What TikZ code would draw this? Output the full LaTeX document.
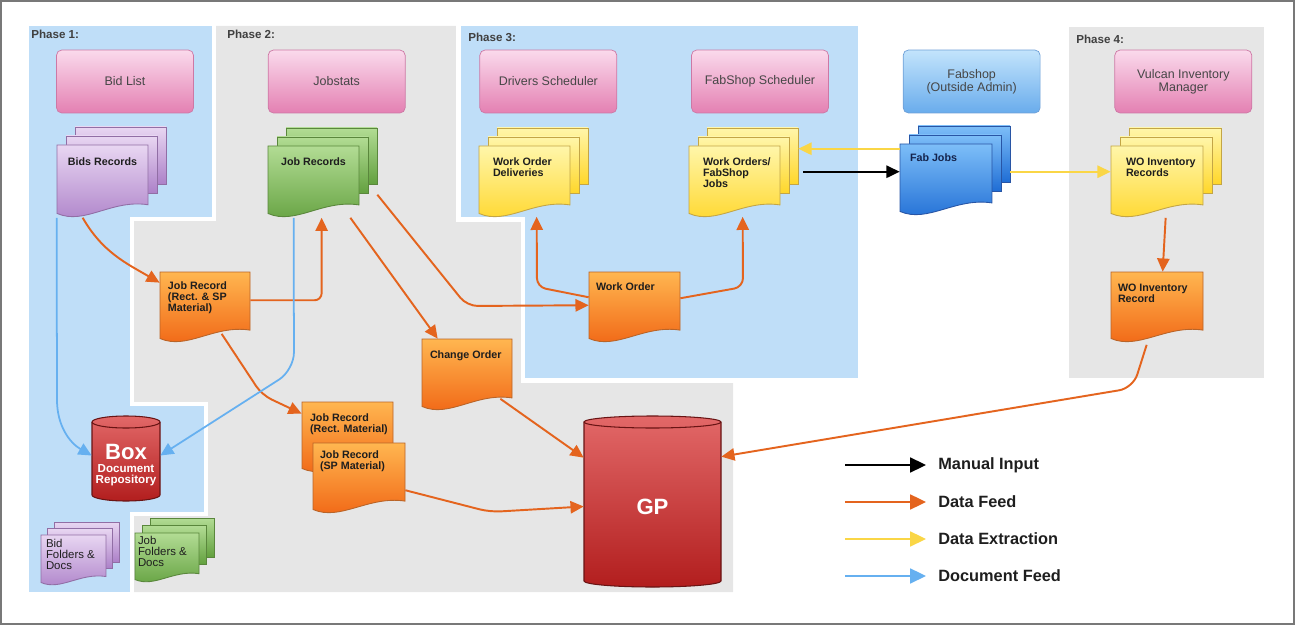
\documentclass[tikz,border=0pt]{standalone}
\usepackage{fontspec}
\setmainfont{Liberation Sans}
\usetikzlibrary{positioning,calc,arrows.meta}

\definecolor{phaseblue}{RGB}{191,222,248}
\definecolor{phasegray}{RGB}{230,230,230}
\definecolor{framegray}{RGB}{120,120,120}
\definecolor{pinktop}{RGB}{250,218,236}
\definecolor{pinkbot}{RGB}{228,128,178}
\definecolor{pinkedge}{RGB}{205,120,165}
\definecolor{skytop}{RGB}{195,228,252}
\definecolor{skybot}{RGB}{105,172,236}
\definecolor{skyedge}{RGB}{110,160,215}
\definecolor{purptop}{RGB}{232,214,242}
\definecolor{purpbot}{RGB}{172,128,200}
\definecolor{purpedge}{RGB}{145,110,165}
\definecolor{greentop}{RGB}{178,220,148}
\definecolor{greenbot}{RGB}{98,160,62}
\definecolor{greenedge}{RGB}{90,135,60}
\definecolor{yeltop}{RGB}{255,246,170}
\definecolor{yelbot}{RGB}{255,214,40}
\definecolor{yeledge}{RGB}{195,165,70}
\definecolor{fabtop}{RGB}{125,190,248}
\definecolor{fabbot}{RGB}{30,108,212}
\definecolor{fabedge}{RGB}{40,85,165}
\definecolor{orgtop}{RGB}{255,182,80}
\definecolor{orgbot}{RGB}{240,98,18}
\definecolor{orgedge}{RGB}{185,100,40}
\definecolor{dbtop}{RGB}{226,104,104}
\definecolor{dbbot}{RGB}{178,30,30}
\definecolor{dbedge}{RGB}{105,20,20}
\definecolor{feedc}{RGB}{228,100,30}
\definecolor{extractc}{RGB}{250,214,70}
\definecolor{docfeedc}{RGB}{102,176,240}
\definecolor{textdark}{RGB}{30,30,30}
\definecolor{apptext}{RGB}{70,70,70}
\definecolor{navytext}{RGB}{20,35,75}

% one page: style, name, x, y (down), width, height
\newcommand{\docpage}[6]{%
  \path[#1] (#3,-#4) -- (#3+#5,-#4) -- (#3+#5,-#4-0.83*#6)
    .. controls (#3+0.6*#5,-#4-0.75*#6) and (#3+0.3*#5,-#4-1.12*#6) .. (#3,-#4-0.95*#6) -- cycle;
  \node[docbody, minimum width=#5*0.02cm, minimum height=0.95*#6*0.02cm] (#2) at (#3+0.5*#5,-#4-0.475*#6) {};
}
% stack of pages: style, name, x, y, width, height, offset
\newcommand{\docstack}[7]{%
  \path[#1] (#3+2*#7,-#4+2*#7) rectangle ++(#5,-0.8*#6);
  \path[#1] (#3+#7,-#4+#7) rectangle ++(#5,-0.8*#6);
  \docpage{#1}{#2}{#3}{#4}{#5}{#6}
}
% database: name, x, y, width, height, cap radius
\newcommand{\dbcyl}[6]{%
  \path[dbfill] (#2,-#3-#6) -- (#2,-#3-#5+#6) arc[start angle=180, end angle=360, x radius=#4/2, y radius=#6]
    -- (#2+#4,-#3-#6) arc[start angle=0, end angle=180, x radius=#4/2, y radius=#6] -- cycle;
  \draw[dbrim] (#2,-#3-#6) arc[start angle=180, end angle=360, x radius=#4/2, y radius=#6];
  \node[docbody, minimum width=#4*0.02cm, minimum height=#5*0.02cm] (#1) at (#2+#4/2,-#3-#5/2) {};
}

\begin{document}
\begin{tikzpicture}[x=0.02cm, y=0.02cm,
  phasearea/.style={fill=phaseblue, draw=white, line width=2.3pt},
  phaselabel/.style={anchor=north west, inner sep=0, font=\fontsize{6.6}{8}\selectfont\bfseries, text=textdark!85},
  appbox/.style={rectangle, rounded corners=3pt, draw=pinkedge, top color=pinktop, bottom color=pinkbot, minimum width=2.74cm, minimum height=1.26cm, font=\fontsize{7.1}{7.6}\selectfont, text=apptext, align=center},
  skybox/.style={draw=skyedge, top color=skytop, bottom color=skybot},
  docbody/.style={rectangle, inner sep=0},
  purpledoc/.style={draw=purpedge, top color=purptop, bottom color=purpbot, line width=0.5pt},
  greendoc/.style={draw=greenedge, top color=greentop, bottom color=greenbot, line width=0.5pt},
  yellowdoc/.style={draw=yeledge, top color=yeltop, bottom color=yelbot, line width=0.5pt},
  fabdoc/.style={draw=fabedge, top color=fabtop, bottom color=fabbot, line width=0.5pt},
  orangedoc/.style={draw=orgedge, top color=orgtop, bottom color=orgbot, line width=0.5pt},
  dbfill/.style={draw=dbedge, top color=dbtop, bottom color=dbbot, line width=0.6pt},
  dbrim/.style={draw=dbedge, line width=0.6pt},
  doctext/.style={anchor=north west, inner sep=0, align=left, font=\fontsize{6.1}{6.3}\selectfont\bfseries, text=textdark},
  foldertext/.style={doctext, font=\fontsize{6.5}{6.3}\selectfont},
  dbtext/.style={inner sep=0, text=white, font=\fontsize{12.6}{14}\selectfont\bfseries},
  dbsmall/.style={inner sep=0, text=white, align=center, font=\fontsize{6.6}{6.3}\selectfont\bfseries},
  legtext/.style={anchor=west, inner sep=0, font=\fontsize{9.3}{11}\selectfont\bfseries, text=textdark},
  feedarrow/.style={draw=feedc, line width=1.1pt, -{Triangle[length=7.5pt,width=7pt]}},
  extractarrow/.style={draw=extractc, line width=1pt, -{Triangle[length=7.5pt,width=7pt]}},
  docarrow/.style={draw=docfeedc, line width=1pt, -{Triangle[length=7.5pt,width=7pt]}},
  manualarrow/.style={draw=black, line width=1pt, -{Triangle[length=7.5pt,width=7pt]}},
  legtip/.style={-{Triangle[length=9pt,width=8.5pt]}}
]
\useasboundingbox (0,0) rectangle (1295,-625);
\draw[framegray, line width=0.6pt] (1,-1) rectangle (1294,-624);

% Phase areas
\fill[phasegray] (29,-26) -- (458.5,-26) -- (458.5,-219.5) -- (523,-219.5) -- (523,-380.5) -- (733,-380.5) -- (733,-592) -- (29,-592) -- cycle;
\fill[phasegray] (1069,-27) rectangle (1264,-378);
\path[phasearea] (27,-24) -- (214,-24) -- (214,-219) -- (132,-219) -- (132,-404) -- (206,-404) -- (206,-514) -- (132,-514) -- (132,-594) -- (27,-594) -- cycle;
\path[phasearea] (458.5,-24) -- (860,-24) -- (860,-380.5) -- (523,-380.5) -- (523,-219.5) -- (458.5,-219.5) -- cycle;

\node[phaselabel] (ph1) at (31,-30) {Phase 1:};
\node[phaselabel] (ph2) at (227,-30) {Phase 2:};
\node[phaselabel] (ph3) at (468,-33) {Phase 3:};
\node[phaselabel] (ph4) at (1076,-35) {Phase 4:};

% Applications
\node[appbox] (bidlist) at (125,-81.5) {Bid List};
\node[appbox, right=1.48cm of bidlist] (jobstats) {Jobstats};
\node[appbox, right=1.48cm of jobstats] (drvsched) {Drivers Scheduler};
\node[appbox, right=1.48cm of drvsched] (fabsched) {FabShop Scheduler};
\node[appbox, skybox, right=1.48cm of fabsched] (fabshop) {Fabshop\\(Outside Admin)};
\node[appbox, right=1.48cm of fabshop] (vulcan) {Vulcan Inventory\\Manager};

% Record stacks
\docstack{purpledoc}{bidrec}{57}{145}{91}{72}{9}
\docstack{greendoc}{jobrec}{268}{146}{91}{71}{9}
\docstack{yellowdoc}{wodel}{479}{146}{91}{71}{9}
\docstack{yellowdoc}{wofab}{689}{146}{91}{71}{9}
\docstack{fabdoc}{fabjobs}{900}{144}{92}{71}{9}
\docstack{yellowdoc}{woinvs}{1111}{146}{92}{71}{9}

\node[doctext, below=0.26cm of bidrec.north, anchor=north] (bidrec-t) {Bids Records};
\node[doctext, below=0.24cm of jobrec.north, anchor=north] (jobrec-t) {Job Records};
\node[doctext, below right=0.24cm and 0.28cm of wodel.north west] (wodel-t) {Work Order\\Deliveries};
\node[doctext, below right=0.24cm and 0.28cm of wofab.north west] (wofab-t) {Work Orders/\\FabShop\\Jobs};
\node[doctext, text=navytext, below right=0.2cm and 0.2cm of fabjobs.north west] (fabjobs-t) {Fab Jobs};
\node[doctext, below right=0.24cm and 0.3cm of woinvs.north west] (woinvs-t) {WO Inventory\\Records};

% Single records
\docpage{orangedoc}{jrsp}{160}{272}{90}{70}
\docpage{orangedoc}{chgord}{422}{339}{90}{71}
\docpage{orangedoc}{workord}{589}{272}{91}{70}
\docpage{orangedoc}{jrrect}{302}{402}{91}{70}
\node[doctext, below right=0.24cm and 0.16cm of jrrect.north west] (jrrect-t) {Job Record\\(Rect. Material)};
\docpage{orangedoc}{jrspm}{313}{443}{92}{70}
\docpage{orangedoc}{woinv}{1111}{272}{92}{70}

\node[doctext, below right=0.2cm and 0.16cm of jrsp.north west] (jrsp-t) {Job Record\\(Rect. \& SP\\Material)};
\node[doctext, below right=0.24cm and 0.16cm of chgord.north west] (chgord-t) {Change Order};
\node[doctext, below right=0.22cm and 0.14cm of workord.north west] (workord-t) {Work Order};
\node[doctext, below right=0.16cm and 0.14cm of jrspm.north west] (jrspm-t) {Job Record\\(SP Material)};
\node[doctext, below right=0.24cm and 0.14cm of woinv.north west] (woinv-t) {WO Inventory\\Record};

% Folders
\docstack{purpledoc}{bidfold}{41}{535}{65}{50}{6.5}
\docstack{greendoc}{jobfold}{135}{533}{64}{49}{7.5}
\node[foldertext, below right=0.08cm and 0.1cm of bidfold.north west] (bidfold-t) {Bid\\Folders \&\\Docs};
\node[foldertext, below right=0.06cm and 0.06cm of jobfold.north west] (jobfold-t) {Job\\Folders \&\\Docs};

% Databases
\dbcyl{box}{92}{416}{68}{85}{6}
\dbcyl{gp}{584}{416}{137}{171}{6}
\node[dbtext] (box-t) at ($(box.center)+(0,7)$) {Box};
\node[dbsmall] (box-s) at ($(box.center)+(0,-17)$) {Document\\Repository};
\node[dbtext] (gp-t) at ($(gp.center)+(0,-5)$) {GP};

% Data feed
\draw[feedarrow] ($(bidrec.south west)+(26,-4)$) to[out=-60,in=150] ($(jrsp.north west)+(0,-11)$);
\draw[feedarrow, rounded corners=4pt] ($(jrsp.east)+(0,5)$) -| ($(jobrec.south west)+(54,-4)$);
\draw[feedarrow, rounded corners=6pt] ($(jrsp.south west)+(62,5)$) -- (262,-395) -- ($(jrrect.north west)+(0,-12)$);
\draw[feedarrow] ($(jobrec.south east)+(-9,-4)$) -- ($(chgord.north west)+(16,0)$);
\draw[feedarrow, rounded corners=6pt] ($(jobrec.east)+(18,-15)$) -- (467,-306) -- (workord.west);
\draw[feedarrow, rounded corners=5pt] ($(workord.west)+(0,8)$) -- (537,-287) -- ($(wodel.south west)+(58,-3)$);
\draw[feedarrow, rounded corners=5pt] ($(workord.east)+(0,7)$) -- (743,-287) -- ($(wofab.south west)+(54,-3)$);
\draw[feedarrow] ($(chgord.south east)+(-12,8)$) -- ($(gp.north west)+(0,-42)$);
\draw[feedarrow, rounded corners=6pt] ($(jrspm.east)+(0,-14)$) -- (490,-512) -- ($(gp.west)+(0,-5)$);
\draw[feedarrow] ($(woinvs.south west)+(55,-4)$) -- ($(woinv.north west)+(52,0)$);
\draw[feedarrow, rounded corners=8pt] ($(woinv.south west)+(36,-6)$) -- (1133,-388) -- ($(gp.north east)+(0,-41)$);

% Manual input
\draw[manualarrow] ($(wofab.east)+(23,8)$) -- ($(fabjobs.west)+(0,6)$);

% Data extraction
\draw[extractarrow] ($(fabjobs.west)+(0,29)$) -- ($(wofab.east)+(18,31)$);
\draw[extractarrow] ($(fabjobs.east)+(18,6)$) -- ($(woinvs.west)+(0,8)$);

% Document feed
\draw[docarrow] ($(bidrec.south west)+(0,-4)$) -- (57,-400) to[out=-90,in=150] ($(box.west)+(0,3)$);
\draw[docarrow, rounded corners=10pt] ($(jobrec.south west)+(26,-4)$) -- (294,-370) -- ($(box.east)+(0,3)$);

% Legend
\node[legtext] (lgmanual) at (938,-465) {Manual Input};
\node[legtext, below=0.74cm of lgmanual.west, anchor=west] (lgfeed) {Data Feed};
\node[legtext, below=0.74cm of lgfeed.west, anchor=west] (lgextract) {Data Extraction};
\node[legtext, below=0.74cm of lgextract.west, anchor=west] (lgdoc) {Document Feed};
\draw[manualarrow, legtip] ($(lgmanual.west)+(-93,0)$) -- ($(lgmanual.west)+(-12,0)$);
\draw[feedarrow, legtip] ($(lgfeed.west)+(-93,0)$) -- ($(lgfeed.west)+(-12,0)$);
\draw[extractarrow, legtip] ($(lgextract.west)+(-93,0)$) -- ($(lgextract.west)+(-12,0)$);
\draw[docarrow, legtip] ($(lgdoc.west)+(-93,0)$) -- ($(lgdoc.west)+(-12,0)$);

\end{tikzpicture}
\end{document}
